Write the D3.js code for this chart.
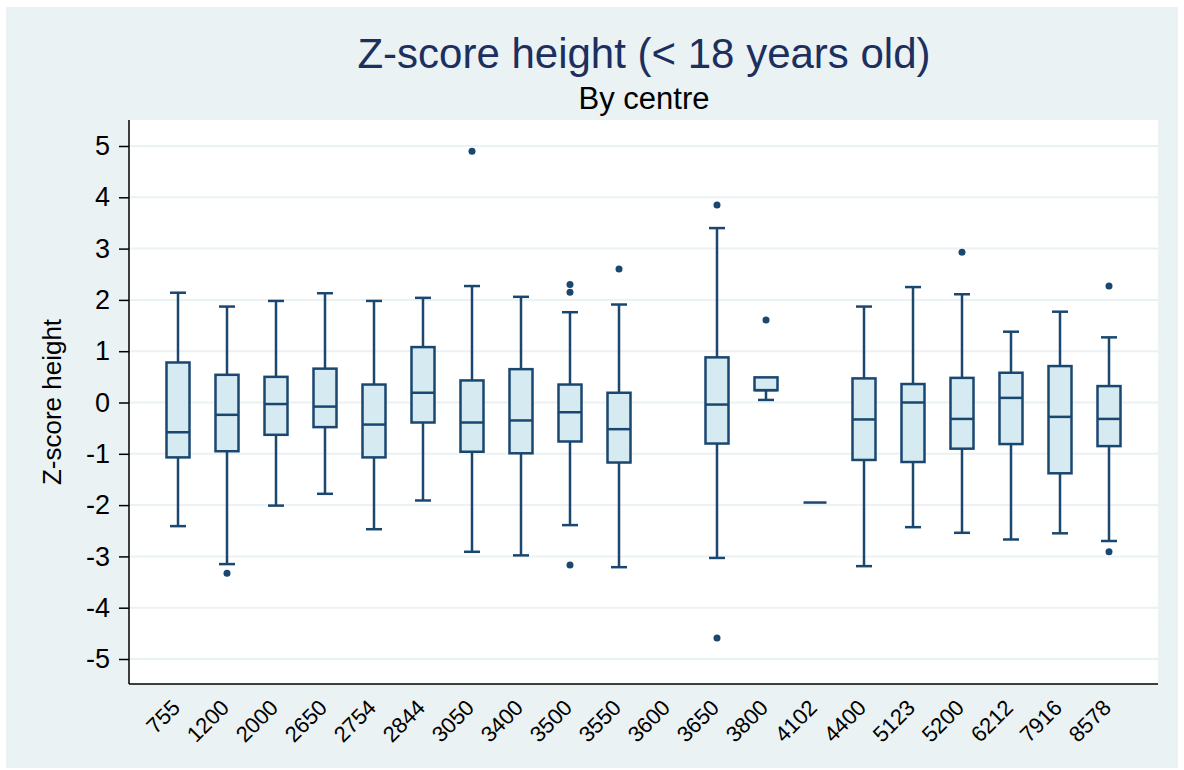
<!DOCTYPE html>
<html>
<head>
<meta charset="utf-8">
<script src="https://cdn.jsdelivr.net/npm/d3@7"></script>
<style>
  body { margin: 0; background: #ffffff; }
  text { font-family: "Liberation Sans", Arial, sans-serif; }
</style>
</head>
<body>
<div id="chart"></div>
<script>
// centres and box statistics
var centres = ["755", "1200", "2000", "2650", "2754", "2844", "3050", "3400", "3500", "3550",
               "3600", "3650", "3800", "4102", "4400", "5123", "5200", "6212", "7916", "8578"];
var lowWhisker = [-2.41, -3.15, -2.01, -1.78, -2.47, -1.91, -2.91, -2.98, -2.39, -3.21,
                  null, -3.03, 0.05, -1.95, -3.19, -2.43, -2.54, -2.67, -2.55, -2.70];
var q1 = [-1.07, -0.95, -0.63, -0.48, -1.07, -0.39, -0.96, -0.99, -0.76, -1.17,
          null, -0.80, 0.24, -1.95, -1.12, -1.16, -0.90, -0.81, -1.38, -0.85];
var median = [-0.58, -0.24, -0.03, -0.08, -0.43, 0.19, -0.39, -0.35, -0.19, -0.52,
              null, -0.04, 0.24, -1.95, -0.33, 0.00, -0.32, 0.09, -0.28, -0.32];
var q3 = [0.78, 0.54, 0.50, 0.66, 0.35, 1.08, 0.43, 0.65, 0.35, 0.19,
          null, 0.88, 0.49, -1.95, 0.47, 0.36, 0.48, 0.58, 0.71, 0.32];
var highWhisker = [2.14, 1.87, 1.98, 2.13, 1.98, 2.04, 2.27, 2.06, 1.76, 1.91,
                   null, 3.40, 0.49, -1.95, 1.87, 2.25, 2.11, 1.38, 1.77, 1.27];
var outliers = [[], [-3.33], [], [], [], [], [4.90], [], [2.30, 2.15, -3.17], [2.60],
                [], [3.85, -4.59], [1.61], [], [], [], [2.93], [], [], [2.27, -2.91]];
var yTicks = [-5, -4, -3, -2, -1, 0, 1, 2, 3, 4, 5];

var W = 1184, H = 770;
var plot = { left: 129, right: 1158, top: 120, bottom: 684 };
var navy = "#1a476f";

var svg = d3.select("#chart").append("svg")
    .attr("width", W)
    .attr("height", H);

// graph region background
svg.append("rect")
    .attr("x", 6).attr("y", 7)
    .attr("width", 1172).attr("height", 761)
    .attr("fill", "#eaf2f3");

// plot region
svg.append("rect")
    .attr("x", plot.left).attr("y", plot.top)
    .attr("width", plot.right - plot.left).attr("height", plot.bottom - plot.top)
    .attr("fill", "#ffffff");

var x = d3.scalePoint()
    .domain(centres)
    .range([plot.left, plot.right])
    .padding(1);

var y = d3.scaleLinear()
    .domain([-5, 5])
    .range([659, 146]);

// grid lines
svg.selectAll("line.grid")
    .data(yTicks)
    .enter()
    .append("line")
    .attr("class", "grid")
    .attr("x1", plot.left).attr("x2", plot.right)
    .attr("y1", function (d) { return y(d); })
    .attr("y2", function (d) { return y(d); })
    .attr("stroke", "#eaf2f3")
    .attr("stroke-width", 2);

// Y axis (plain hyphen for negatives)
var yAxis = svg.append("g")
    .attr("transform", "translate(" + plot.left + ",0)")
    .call(d3.axisLeft(y).tickValues(yTicks).tickSize(10).tickPadding(9)
        .tickFormat(function (d) { return String(d); }));
yAxis.select(".domain").remove();
yAxis.selectAll(".tick line").attr("stroke", "#000").attr("stroke-width", 1.5);
yAxis.selectAll(".tick text")
    .attr("fill", "#000")
    .style("font-size", "27px")
    .style("font-family", "Liberation Sans, Arial, sans-serif");

svg.append("line")
    .attr("x1", plot.left).attr("x2", plot.left)
    .attr("y1", plot.top).attr("y2", plot.bottom)
    .attr("stroke", "#000").attr("stroke-width", 1.5);

// X axis
var xAxis = svg.append("g")
    .attr("transform", "translate(0," + plot.bottom + ")")
    .call(d3.axisBottom(x).tickSize(0).tickPadding(0));
xAxis.select(".domain").remove();
xAxis.selectAll(".tick text")
    .attr("fill", "#000")
    .style("font-size", "22px")
    .style("font-family", "Liberation Sans, Arial, sans-serif")
    .style("text-anchor", "end")
    .attr("dy", null)
    .attr("y", 0)
    .attr("transform", "translate(3,25)rotate(-45)");

svg.append("line")
    .attr("x1", plot.left).attr("x2", plot.right)
    .attr("y1", plot.bottom).attr("y2", plot.bottom)
    .attr("stroke", "#000").attr("stroke-width", 1.5);

// boxes
var idx = d3.range(centres.length).filter(function (i) { return q1[i] !== null; });
var boxW = 23, capW = 16;

var g = svg.append("g");

// whiskers
g.selectAll("line.whiskLo")
    .data(idx).enter().append("line")
    .attr("x1", function (i) { return x(centres[i]); })
    .attr("x2", function (i) { return x(centres[i]); })
    .attr("y1", function (i) { return y(q1[i]); })
    .attr("y2", function (i) { return y(lowWhisker[i]); })
    .attr("stroke", navy).attr("stroke-width", 2.5);
g.selectAll("line.whiskHi")
    .data(idx).enter().append("line")
    .attr("x1", function (i) { return x(centres[i]); })
    .attr("x2", function (i) { return x(centres[i]); })
    .attr("y1", function (i) { return y(q3[i]); })
    .attr("y2", function (i) { return y(highWhisker[i]); })
    .attr("stroke", navy).attr("stroke-width", 2.5);
// caps
g.selectAll("line.capLo")
    .data(idx.filter(function (i) { return lowWhisker[i] < q1[i]; })).enter().append("line")
    .attr("x1", function (i) { return x(centres[i]) - capW / 2; })
    .attr("x2", function (i) { return x(centres[i]) + capW / 2; })
    .attr("y1", function (i) { return y(lowWhisker[i]); })
    .attr("y2", function (i) { return y(lowWhisker[i]); })
    .attr("stroke", navy).attr("stroke-width", 2.5);
g.selectAll("line.capHi")
    .data(idx.filter(function (i) { return highWhisker[i] > q3[i]; })).enter().append("line")
    .attr("x1", function (i) { return x(centres[i]) - capW / 2; })
    .attr("x2", function (i) { return x(centres[i]) + capW / 2; })
    .attr("y1", function (i) { return y(highWhisker[i]); })
    .attr("y2", function (i) { return y(highWhisker[i]); })
    .attr("stroke", navy).attr("stroke-width", 2.5);

g.selectAll("rect.box")
    .data(idx).enter().append("rect")
    .attr("x", function (i) { return x(centres[i]) - boxW / 2; })
    .attr("y", function (i) { return y(q3[i]); })
    .attr("width", boxW)
    .attr("height", function (i) { return y(q1[i]) - y(q3[i]); })
    .attr("fill", "#d6eaf1")
    .attr("stroke", navy).attr("stroke-width", 2.5);

g.selectAll("line.median")
    .data(idx).enter().append("line")
    .attr("x1", function (i) { return x(centres[i]) - boxW / 2; })
    .attr("x2", function (i) { return x(centres[i]) + boxW / 2; })
    .attr("y1", function (i) { return y(median[i]); })
    .attr("y2", function (i) { return y(median[i]); })
    .attr("stroke", navy).attr("stroke-width", 2.5);

// outside values
var pts = [];
outliers.forEach(function (arr, i) {
    arr.forEach(function (v) { pts.push({ c: centres[i], v: v }); });
});
g.selectAll("circle.out")
    .data(pts).enter().append("circle")
    .attr("cx", function (d) { return x(d.c); })
    .attr("cy", function (d) { return y(d.v); })
    .attr("r", 3.5)
    .attr("fill", navy);

// titles
svg.append("text")
    .attr("x", 644).attr("y", 68)
    .attr("text-anchor", "middle")
    .attr("fill", "#1c2f5e")
    .style("font-size", "42px")
    .text("Z-score height (< 18 years old)");
svg.append("text")
    .attr("x", 644).attr("y", 109)
    .attr("text-anchor", "middle")
    .attr("fill", "#000")
    .style("font-size", "31px")
    .text("By centre");
svg.append("text")
    .attr("transform", "translate(61,402)rotate(-90)")
    .attr("text-anchor", "middle")
    .attr("fill", "#000")
    .style("font-size", "26px")
    .text("Z-score height");
</script>
</body>
</html>
